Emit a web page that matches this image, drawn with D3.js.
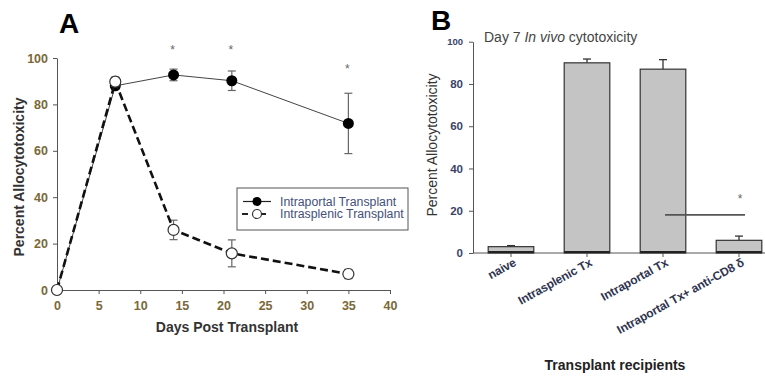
<!DOCTYPE html>
<html>
<head>
<meta charset="utf-8">
<script src="https://cdn.jsdelivr.net/npm/d3@7"></script>
<style>
  body { margin: 0; background: #fff; }
  svg { font-family: Arial, "Liberation Sans", sans-serif; }
</style>
</head>
<body>
<svg id="chart" width="765" height="378"></svg>
<script>
// panel A data
const days = [0, 7, 14, 21, 35];
const portalMean = [0, 88, 92.7, 90.2, 71.8];
const portalErr = [0, 1.5, 2.5, 4.2, 13];
const splenicMean = [0, 89.8, 25.9, 15.8, 6.9];
const splenicErr = [0, 2, 4.2, 5.8, 2];
const starDays = [14, 21, 35];
const starVals = [104, 104, 95.5];
const xTicksA = [0, 5, 10, 15, 20, 25, 30, 35, 40];
const yTicksA = [0, 20, 40, 60, 80, 100];
const legendLabels = ['Intraportal Transplant', 'Intrasplenic Transplant'];

// panel B data
const groups = ['naive', 'Intrasplenic Tx', 'Intraportal Tx', 'Intraportal Tx+ anti-CD8 \u03b4'];
const groupMean = [3, 90, 87, 6];
const groupErr = [0.5, 1.8, 4.5, 2];
const yTicksB = [0, 20, 40, 60, 80, 100];
const sigBar = { from: 2, to: 3, value: 18, star: 27 };

const svg = d3.select('#chart');

// ---------- Panel A ----------
const x = d3.scaleLinear().domain([0, 40]).range([57, 390]);
const y = d3.scaleLinear().domain([0, 100]).range([290, 58]);
const tickCol = '#7a6838';

const gA = svg.append('g').attr('class', 'panel-a');

const axXA = gA.append('g').attr('transform', `translate(0,${y(0)})`)
  .call(d3.axisBottom(x).tickValues(xTicksA).tickSize(4).tickSizeOuter(0));
const axYA = gA.append('g').attr('transform', `translate(${x(0)},0)`)
  .call(d3.axisLeft(y).tickValues(yTicksA).tickSize(4).tickSizeOuter(0));
[axXA, axYA].forEach(ax => {
  ax.select('.domain').attr('stroke', '#555');
  ax.selectAll('.tick line').attr('stroke', '#555');
  ax.selectAll('.tick text').attr('fill', tickCol)
    .style('font-size', '12.5px').style('font-weight', 'bold');
});
axXA.selectAll('.tick text').attr('dy', '1.05em');
axYA.selectAll('.tick text').attr('x', -9);

gA.append('text').attr('x', 227).attr('y', 332).attr('text-anchor', 'middle')
  .style('font-size', '14px').style('font-weight', 'bold').attr('fill', '#333')
  .text('Days Post Transplant');
gA.append('text').attr('transform', `translate(24,177) rotate(-90)`)
  .attr('text-anchor', 'middle')
  .style('font-size', '14px').style('font-weight', 'bold').attr('fill', '#333')
  .text('Percent Allocytotoxicity');
gA.append('text').attr('x', 59).attr('y', 33)
  .style('font-size', '28px').style('font-weight', 'bold').text('A');

const portal = days.map((d, i) => ({ d, m: portalMean[i], e: portalErr[i] }));
const splenic = days.map((d, i) => ({ d, m: splenicMean[i], e: splenicErr[i] }));
const line = d3.line().x(p => x(p.d)).y(p => y(p.m));

function errBars(data) {
  const g = gA.append('g').attr('stroke', '#666').attr('stroke-width', 1.2);
  data.filter(p => p.e > 0).forEach(p => {
    const cx = x(p.d);
    g.append('line').attr('x1', cx).attr('x2', cx).attr('y1', y(p.m + p.e)).attr('y2', y(p.m - p.e));
    [p.m + p.e, p.m - p.e].forEach(v => {
      g.append('line').attr('x1', cx - 4).attr('x2', cx + 4).attr('y1', y(v)).attr('y2', y(v));
    });
  });
}

errBars(portal);
gA.append('path').datum(portal).attr('d', line)
  .attr('fill', 'none').attr('stroke', '#444').attr('stroke-width', 1);
gA.selectAll('.pdot').data(portal).join('circle')
  .attr('cx', p => x(p.d)).attr('cy', p => y(p.m)).attr('r', 5.5).attr('fill', '#000');

errBars(splenic);
gA.append('path').datum(splenic).attr('d', line)
  .attr('fill', 'none').attr('stroke', '#111').attr('stroke-width', 2.6)
  .attr('stroke-dasharray', '8,4');
gA.selectAll('.sdot').data(splenic).join('circle')
  .attr('cx', p => x(p.d)).attr('cy', p => y(p.m)).attr('r', 5.5)
  .attr('fill', '#fff').attr('stroke', '#333').attr('stroke-width', 1.2);

gA.selectAll('.star').data(starDays).join('text')
  .attr('x', d => x(d) - 1).attr('y', (d, i) => y(starVals[i]) + 5)
  .attr('text-anchor', 'middle').style('font-size', '12px').attr('fill', '#666').text('*');

// legend
const lg = gA.append('g').attr('transform', 'translate(237,188)');
lg.append('rect').attr('width', 171).attr('height', 42)
  .attr('fill', '#fff').attr('stroke', '#555').attr('stroke-width', 1);
legendLabels.forEach((lab, i) => {
  const ly = 13.5 + i * 12.5;
  const row = lg.append('g');
  if (i === 0) {
    row.append('line').attr('x1', 6).attr('x2', 34).attr('y1', ly).attr('y2', ly)
      .attr('stroke', '#222').attr('stroke-width', 1.2);
    row.append('circle').attr('cx', 20).attr('cy', ly).attr('r', 4.5).attr('fill', '#000');
  } else {
    row.append('line').attr('x1', 5).attr('x2', 35).attr('y1', ly).attr('y2', ly)
      .attr('stroke', '#222').attr('stroke-width', 2.2).attr('stroke-dasharray', '6,12');
    row.append('circle').attr('cx', 20).attr('cy', ly).attr('r', 4.5)
      .attr('fill', '#fff').attr('stroke', '#333').attr('stroke-width', 1.2);
  }
  row.append('text').attr('x', 43).attr('y', ly + 4)
    .style('font-size', '12.3px').attr('fill', '#44507a').text(lab);
});

// ---------- Panel B ----------
const xb = d3.scaleBand().domain(groups).range([473, 777]).paddingInner(0.4).paddingOuter(0.2);
const yb = d3.scaleLinear().domain([0, 100]).range([253, 41.7]);
const gB = svg.append('g').attr('class', 'panel-b');

const axYB = gB.append('g').attr('transform', `translate(473,0)`)
  .call(d3.axisLeft(yb).tickValues(yTicksB).tickSize(4).tickSizeOuter(0));
axYB.select('.domain').attr('stroke', '#555');
axYB.selectAll('.tick line').attr('stroke', '#555');
axYB.selectAll('.tick text').attr('fill', '#3a4468').attr('x', -10)
  .style('font-size', '11.5px').style('font-weight', 'bold');
axYB.selectAll('.tick text').filter(d => d === 100).style('font-size', '9.5px');

gB.append('line').attr('x1', 473).attr('x2', 765).attr('y1', yb(0)).attr('y2', yb(0))
  .attr('stroke', '#555');
gB.selectAll('.xtick').data(groups).join('line')
  .attr('x1', g => xb(g) + xb.bandwidth() / 2).attr('x2', g => xb(g) + xb.bandwidth() / 2)
  .attr('y1', yb(0)).attr('y2', yb(0) + 4).attr('stroke', '#555');

// error caps (upper only)
gB.selectAll('.err').data(groups).join('g').each(function (g, i) {
  const cx = xb(g) + xb.bandwidth() / 2;
  const top = yb(groupMean[i] + groupErr[i]);
  const sel = d3.select(this).attr('stroke', '#333').attr('stroke-width', 1.3);
  sel.append('line').attr('x1', cx).attr('x2', cx).attr('y1', yb(groupMean[i])).attr('y2', top);
  sel.append('line').attr('x1', cx - 4).attr('x2', cx + 4).attr('y1', top).attr('y2', top);
});

gB.selectAll('.bar').data(groups).join('rect')
  .attr('x', g => xb(g)).attr('width', xb.bandwidth())
  .attr('y', (g, i) => yb(groupMean[i])).attr('height', (g, i) => yb(0) - yb(groupMean[i]))
  .attr('fill', '#c4c4c4').attr('stroke', '#333').attr('stroke-width', 1.2);
gB.selectAll('.base').data(groups).join('line')
  .attr('x1', g => xb(g)).attr('x2', g => xb(g) + xb.bandwidth())
  .attr('y1', yb(0) - 1).attr('y2', yb(0) - 1).attr('stroke', '#222').attr('stroke-width', 2);

gB.selectAll('.xlab').data(groups).join('text')
  .attr('transform', g => `translate(${xb(g) + xb.bandwidth() / 2 + 6},${yb(0) + 12}) rotate(-29)`)
  .attr('text-anchor', 'end')
  .style('font-size', '12px').style('font-weight', 'bold').style('letter-spacing', '-0.15px')
  .attr('fill', '#2e3450').text(g => g);

// significance marker
const sx1 = xb(groups[sigBar.from]) + xb.bandwidth() / 2 + 2;
const sx2 = xb(groups[sigBar.to]) + xb.bandwidth() / 2 + 6;
gB.append('line').attr('x1', sx1).attr('x2', sx2).attr('y1', yb(sigBar.value)).attr('y2', yb(sigBar.value))
  .attr('stroke', '#555').attr('stroke-width', 1.8);
gB.append('text').attr('x', sx2 - 5).attr('y', yb(sigBar.star) + 7)
  .attr('text-anchor', 'middle').style('font-size', '12px').attr('fill', '#666').text('*');

gB.append('text').attr('transform', 'translate(437,145) rotate(-90)')
  .attr('text-anchor', 'middle').style('font-size', '14px').attr('fill', '#333')
  .text('Percent Allocytotoxicity');
gB.append('text').attr('x', 615).attr('y', 370).attr('text-anchor', 'middle')
  .style('font-size', '14px').style('font-weight', 'bold').attr('fill', '#222')
  .text('Transplant recipients');
gB.append('text').attr('x', 431).attr('y', 30)
  .style('font-size', '28px').style('font-weight', 'bold').text('B');

const title = gB.append('text').attr('x', 484).attr('y', 42)
  .style('font-size', '14px').attr('fill', '#444');
title.append('tspan').text('Day 7 ');
title.append('tspan').style('font-style', 'italic').text('In vivo');
title.append('tspan').text(' cytotoxicity');
</script>
</body>
</html>
